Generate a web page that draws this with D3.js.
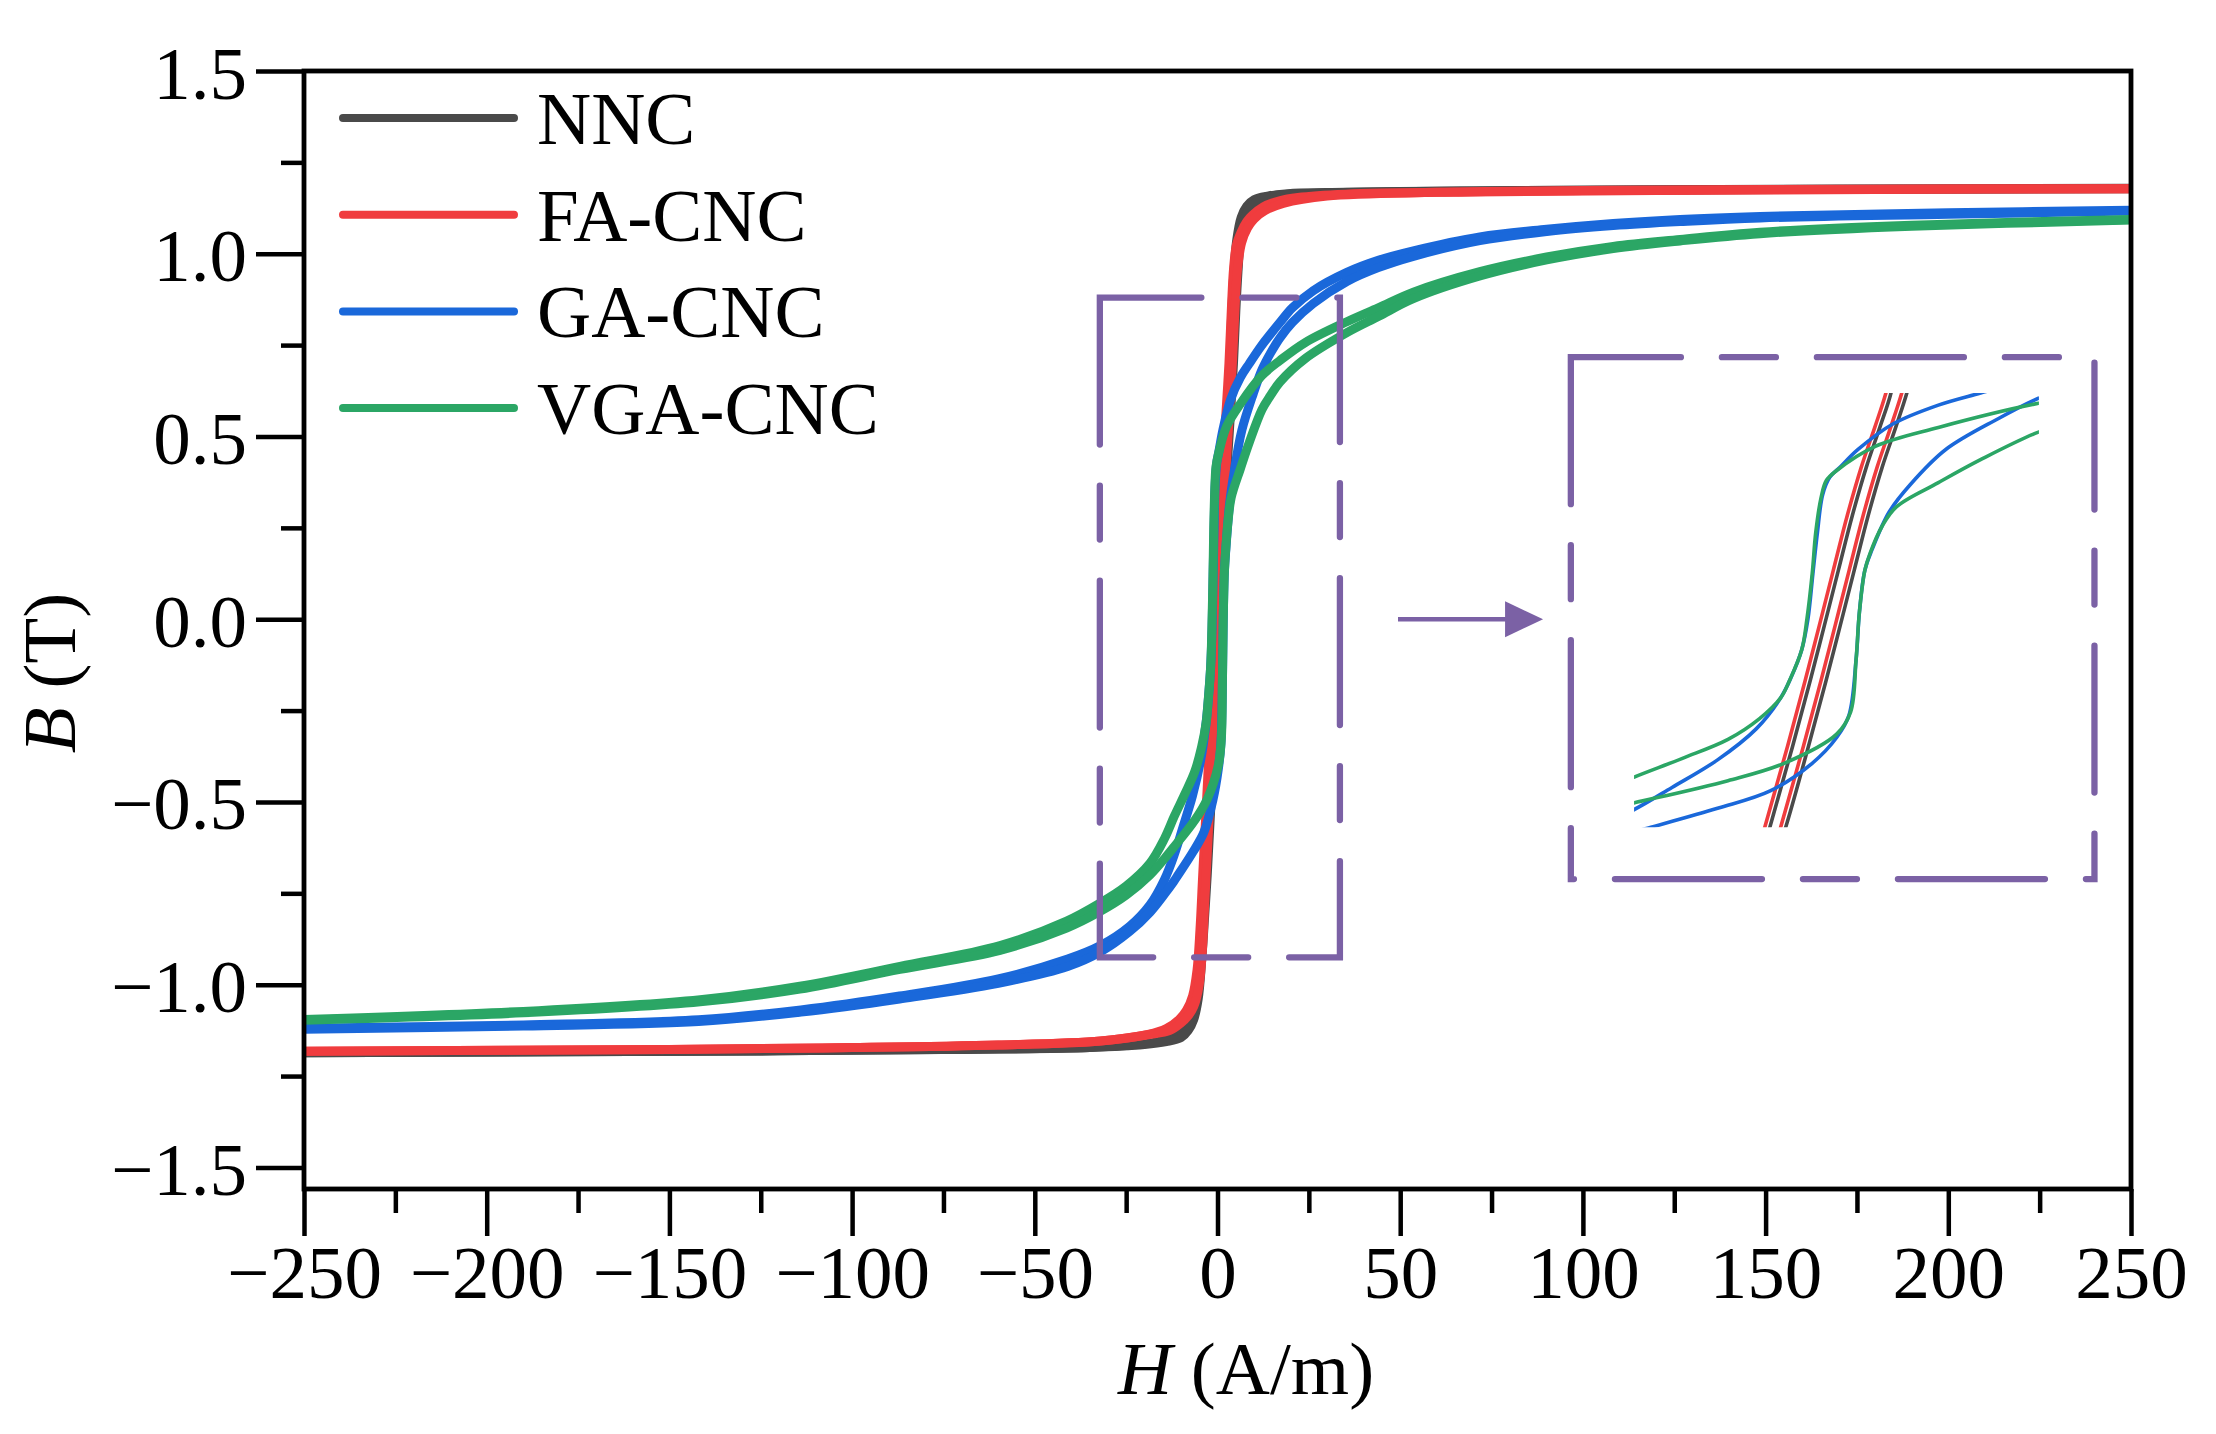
<!DOCTYPE html>
<html>
<head>
<meta charset="utf-8">
<script src="https://cdn.jsdelivr.net/npm/d3@7"></script>
<style>
  html, body { margin: 0; padding: 0; background: #fff; }
  svg text { font-family: "Liberation Serif", "Times New Roman", serif; fill: #000; }
</style>
</head>
<body>
<svg id="chart" width="2216" height="1434"></svg>
<script>
// ---- data: [H (A/m), B (T)] ----
// descending branch (from +H to -H) and ascending branch (from -H to +H)
const nncDown = [[250,1.179],[180,1.177],[120,1.175],[70,1.172],[35,1.168],[20,1.165],[14,1.158],[10,1.148],[8,1.13],[6.5,1.10],[5.3,1.04],[4.5,0.95],[3.9,0.84],[3.43,0.70],[2.80,0.594],[1.97,0.461],[1.14,0.305],[0.31,0.128],[-0.52,-0.050],[-1.36,-0.228],[-2.40,-0.439],[-3.75,-0.700],[-4.5,-0.85],[-5.3,-0.97],[-6.3,-1.05],[-7.8,-1.10],[-10,-1.13],[-14,-1.15],[-20,-1.162],[-35,-1.172],[-70,-1.177],[-120,-1.181],[-250,-1.186]];
const nncUp = [[-250,-1.186],[-120,-1.181],[-70,-1.177],[-35,-1.172],[-20,-1.164],[-14,-1.156],[-10,-1.145],[-8,-1.125],[-6.5,-1.095],[-5.3,-1.04],[-4.3,-0.93],[-3.5,-0.81],[-2.81,-0.70],[-1.46,-0.439],[-0.42,-0.228],[0.42,-0.050],[1.25,0.128],[2.08,0.305],[2.91,0.461],[3.74,0.594],[4.37,0.70],[5.0,0.84],[5.6,0.95],[6.3,1.04],[7.5,1.10],[9.3,1.13],[12,1.15],[16,1.160],[25,1.165],[50,1.170],[100,1.174],[250,1.178]];

const faDown = [[250,1.178],[180,1.176],[120,1.173],[70,1.169],[35,1.163],[22,1.154],[17,1.145],[12.5,1.128],[9.5,1.105],[8,1.088],[6.5,1.06],[5.2,1.025],[4.4,0.96],[3.8,0.85],[3.13,0.70],[2.50,0.594],[1.67,0.461],[0.84,0.305],[0.01,0.128],[-0.82,-0.050],[-1.66,-0.228],[-2.70,-0.439],[-4.05,-0.700],[-4.8,-0.85],[-5.6,-0.96],[-6.8,-1.03],[-8.5,-1.07],[-10.5,-1.095],[-14,-1.12],[-19,-1.136],[-32,-1.154],[-60,-1.165],[-100,-1.172],[-150,-1.177],[-250,-1.182]];
const faUp = [[-250,-1.182],[-150,-1.177],[-100,-1.172],[-60,-1.165],[-32,-1.154],[-19,-1.137],[-13,-1.125],[-10,-1.105],[-8,-1.085],[-6.5,-1.06],[-5.0,-1.00],[-4.1,-0.90],[-3.6,-0.80],[-3.11,-0.70],[-1.76,-0.439],[-0.72,-0.228],[0.12,-0.050],[0.95,0.128],[1.78,0.305],[2.61,0.461],[3.44,0.594],[4.07,0.70],[4.8,0.85],[5.5,0.96],[6.6,1.03],[8.2,1.07],[10,1.095],[13,1.118],[18,1.138],[30,1.158],[60,1.168],[100,1.173],[150,1.176],[250,1.178]];

const gaDown = [[250,1.119],[200,1.112],[148.5,1.102],[126.6,1.094],[108.3,1.083],[90.1,1.067],[71.8,1.046],[53.6,1.008],[44,0.982],[35.4,0.949],[26.2,0.899],[20.5,0.852],[17.1,0.812],[14.5,0.780],[12,0.748],[8.74,0.700],[6.24,0.661],[3.54,0.600],[1.46,0.517],[0.42,0.461],[-0.20,0.428],[-0.62,0.372],[-0.93,0.250],[-1.20,0.117],[-1.49,-0.028],[-1.86,-0.128],[-2.49,-0.217],[-3.11,-0.283],[-4.56,-0.383],[-6.85,-0.483],[-9.55,-0.572],[-11.82,-0.644],[-14.5,-0.712],[-18.5,-0.782],[-24,-0.840],[-32,-0.893],[-41,-0.930],[-60,-0.984],[-87,-1.031],[-114,-1.069],[-142,-1.096],[-190,-1.110],[-250,-1.119]];
const gaUp = [[-250,-1.122],[-190,-1.113],[-142,-1.101],[-114,-1.075],[-87,-1.039],[-60,-0.996],[-41,-0.950],[-32,-0.910],[-24,-0.854],[-18.5,-0.802],[-14.5,-0.752],[-12,-0.718],[-10.80,-0.700],[-6.85,-0.639],[-3.73,-0.583],[-1.24,-0.494],[0.21,-0.411],[0.94,-0.339],[1.36,-0.161],[1.56,-0.006],[1.88,0.128],[2.30,0.194],[3.33,0.317],[4.58,0.405],[6.66,0.517],[9.78,0.617],[12.18,0.683],[14.5,0.728],[17.1,0.770],[20.5,0.812],[26.2,0.864],[35.4,0.924],[44,0.962],[53.6,0.993],[71.8,1.036],[90.1,1.061],[108.3,1.077],[126.6,1.088],[148.5,1.098],[200,1.108],[250,1.117]];

const vgaDown = [[250,1.094],[190,1.078],[148.5,1.059],[126.6,1.039],[108.3,1.020],[90.1,0.991],[71.8,0.951],[53.6,0.895],[44,0.852],[35.4,0.814],[24,0.757],[17.1,0.708],[12.18,0.667],[6.24,0.589],[2.50,0.528],[0.21,0.450],[-0.41,0.417],[-0.72,0.361],[-1.03,0.250],[-1.24,0.117],[-1.55,-0.028],[-1.86,-0.128],[-2.59,-0.228],[-3.11,-0.283],[-4.36,-0.350],[-6.23,-0.417],[-8.93,-0.478],[-11.82,-0.539],[-14.5,-0.600],[-18.5,-0.668],[-25,-0.730],[-32.2,-0.777],[-41.3,-0.826],[-59.5,-0.893],[-86.9,-0.950],[-114.3,-1.004],[-141.6,-1.041],[-190,-1.073],[-250,-1.095]];
const vgaUp = [[-250,-1.097],[-190,-1.077],[-141.6,-1.047],[-114.3,-1.012],[-86.9,-0.958],[-59.5,-0.906],[-41.3,-0.845],[-32.2,-0.800],[-25,-0.755],[-18.5,-0.700],[-14.5,-0.655],[-11.82,-0.622],[-6.23,-0.550],[-2.90,-0.494],[0.21,-0.400],[1.04,-0.328],[1.36,-0.161],[1.56,-0.006],[1.88,0.128],[2.19,0.183],[2.92,0.272],[3.75,0.333],[6.24,0.411],[8.74,0.485],[12.18,0.574],[14.5,0.612],[17.1,0.649],[24,0.713],[35.4,0.784],[44,0.828],[53.6,0.877],[71.8,0.939],[90.1,0.983],[108.3,1.014],[126.6,1.035],[148.5,1.055],[190,1.075],[250,1.092]];

const seriesNames = ["NNC", "FA-CNC", "GA-CNC", "VGA-CNC"];
const seriesLoops = [[nncDown, nncUp], [faDown, faUp], [gaDown, gaUp], [vgaDown, vgaUp]];

const hMajor = [-250, -200, -150, -100, -50, 0, 50, 100, 150, 200, 250];
const hMinor = [-225, -175, -125, -75, -25, 25, 75, 125, 175, 225];
const bMajor = [-1.5, -1.0, -0.5, 0.0, 0.5, 1.0, 1.5];
const bMinor = [-1.25, -0.75, -0.25, 0.25, 0.75, 1.25];

// magnified window (H, B) and the dashed region it comes from
const zoomH = [-32.2, 33.5];
const zoomB = [-0.925, 0.88];
const insetH = [-11.8, 12.2];
const insetB = [-0.7, 0.7];

// ---- styles / layout ----
const colors = ["#4a4a4a", "#f03c3e", "#1a68da", "#2ba665"];
const purple = "#7b61a5";
const fontSize = 75;

const svg = d3.select("#chart");

const x = d3.scaleLinear().domain([-250, 250]).range([304, 2131]);
const y = d3.scaleLinear().domain([-1.559, 1.5]).range([1189, 71]);

// where the inset sits, in main-axis units
const insetFrameH = [96.7, 240], insetFrameB = [-0.711, 0.717];
const insetAreaH = [114, 224.8], insetAreaB = [-0.569, 0.619];
const xIn = d3.scaleLinear().domain(insetH).range([x(insetAreaH[0]), x(insetAreaH[1])]);
const yIn = d3.scaleLinear().domain(insetB).range([y(insetAreaB[0]), y(insetAreaB[1])]);

const defs = svg.append("defs");
defs.append("clipPath").attr("id", "plotClip").append("rect")
  .attr("x", x(-250)).attr("y", y(1.5))
  .attr("width", x(250) - x(-250)).attr("height", y(-1.559) - y(1.5));
defs.append("clipPath").attr("id", "insetClip").append("rect")
  .attr("x", xIn(insetH[0])).attr("y", yIn(insetB[1]))
  .attr("width", xIn(insetH[1]) - xIn(insetH[0])).attr("height", yIn(insetB[0]) - yIn(insetB[1]));

// ---- axes ----
function styleAxis(g) {
  g.select(".domain").remove();
  g.attr("font-size", fontSize).attr("font-family", "Liberation Serif, Times New Roman, serif");
  g.selectAll(".tick line").attr("stroke", "#000").attr("stroke-width", 4.5);
  g.selectAll(".tick text").attr("fill", "#000");
}

svg.append("g").attr("transform", `translate(0,${y(-1.559)})`)
  .call(d3.axisBottom(x).tickValues(hMinor).tickSize(24).tickFormat(""))
  .call(styleAxis);
svg.append("g").attr("transform", `translate(0,${y(-1.559)})`)
  .call(d3.axisBottom(x).tickValues(hMajor).tickSize(47).tickPadding(9).tickFormat(d3.format("d")))
  .call(styleAxis);

svg.append("g").attr("transform", `translate(${x(-250)},0)`)
  .call(d3.axisLeft(y).tickValues(bMinor).tickSize(23).tickFormat(""))
  .call(styleAxis);
svg.append("g").attr("transform", `translate(${x(-250)},0)`)
  .call(d3.axisLeft(y).tickValues(bMajor).tickSize(48).tickPadding(9).tickFormat(d3.format(".1f")))
  .call(styleAxis)
  .call(g => g.selectAll(".tick text").attr("dy", "0.36em"));

// ---- curves ----
const lineMain = d3.line()
  .x(d => x(d[0])).y(d => y(d[1]))
  .curve(d3.curveCatmullRom.alpha(0.5));
const lineInset = d3.line()
  .x(d => xIn(d[0])).y(d => yIn(d[1]))
  .curve(d3.curveCatmullRom.alpha(0.5));

const gMain = svg.append("g").attr("clip-path", "url(#plotClip)");
seriesLoops.forEach((loop, i) => {
  loop.forEach(branch => {
    gMain.append("path")
      .attr("d", lineMain(branch))
      .attr("fill", "none")
      .attr("stroke", colors[i])
      .attr("stroke-width", 9)
      .attr("stroke-linejoin", "round");
  });
});

// frame
svg.append("rect")
  .attr("x", x(-250)).attr("y", y(1.5))
  .attr("width", x(250) - x(-250)).attr("height", y(-1.559) - y(1.5))
  .attr("fill", "none").attr("stroke", "#000").attr("stroke-width", 4.8);

// ---- dashed boxes, arrow, inset ----
function boxPath(h, b) {
  const x0 = x(h[0]), x1 = x(h[1]), y0 = y(b[1]), y1 = y(b[0]);
  return `M${x0},${y0}V${y1}H${x1}V${y0}Z`;
}
[[zoomH, zoomB], [insetFrameH, insetFrameB]].forEach(([h, b]) => {
  svg.append("path")
    .attr("d", boxPath(h, b))
    .attr("fill", "none")
    .attr("stroke", purple)
    .attr("stroke-width", 6.3)
    .attr("stroke-linecap", "round")
    .attr("stroke-dasharray", "147,41,54,41");
});

const arrowH = [49.4, 89.1];
const ax0 = x(arrowH[0]), ax1 = x(arrowH[1]), ay = y(0);
svg.append("line")
  .attr("x1", ax0).attr("x2", ax1 - 30).attr("y1", ay).attr("y2", ay)
  .attr("stroke", purple).attr("stroke-width", 4.6);
svg.append("path")
  .attr("d", `M${ax1},${ay}L${ax1 - 38},${ay - 18}L${ax1 - 38},${ay + 18}Z`)
  .attr("fill", purple);

const gInset = svg.append("g").attr("clip-path", "url(#insetClip)");
seriesLoops.forEach((loop, i) => {
  loop.forEach(branch => {
    gInset.append("path")
      .attr("d", lineInset(branch))
      .attr("fill", "none")
      .attr("stroke", colors[i])
      .attr("stroke-width", 3.6)
      .attr("stroke-linejoin", "round");
  });
});

// ---- legend ----
const legend = svg.append("g");
seriesNames.forEach((name, i) => {
  const ly = 118 + i * 96.7;
  legend.append("line")
    .attr("x1", 343).attr("x2", 514).attr("y1", ly).attr("y2", ly)
    .attr("stroke", colors[i]).attr("stroke-width", 8).attr("stroke-linecap", "round");
  legend.append("text")
    .attr("x", 537).attr("y", ly + 26)
    .attr("font-size", fontSize)
    .text(name);
});

// ---- axis titles ----
const xTitle = svg.append("text")
  .attr("x", 1246).attr("y", 1394)
  .attr("text-anchor", "middle")
  .attr("font-size", fontSize);
xTitle.append("tspan").attr("font-style", "italic").text("H");
xTitle.append("tspan").text(" (A/m)");

const yTitle = svg.append("text")
  .attr("transform", "translate(75,673) rotate(-90)")
  .attr("text-anchor", "middle")
  .attr("font-size", fontSize);
yTitle.append("tspan").attr("font-style", "italic").text("B");
yTitle.append("tspan").text(" (T)");
</script>
</body>
</html>
